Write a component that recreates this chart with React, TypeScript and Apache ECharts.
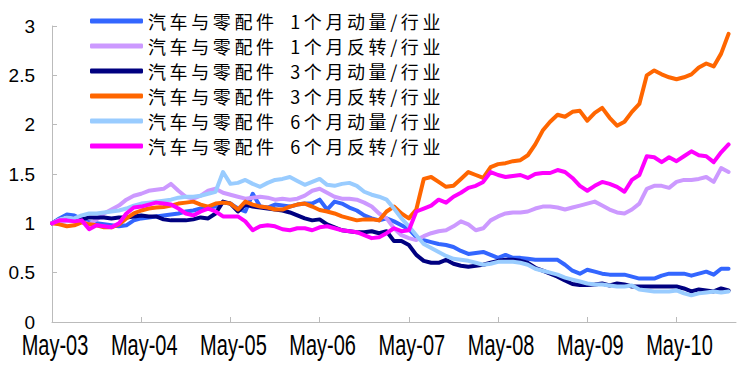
import React, { useEffect, useRef } from "react";
import * as echarts from "echarts";

const MONTH_NAMES = ["Jan", "Feb", "Mar", "Apr", "May", "Jun", "Jul", "Aug", "Sep", "Oct", "Nov", "Dec"];
const START_YEAR = 2003;
const START_MONTH = 4; // May
const CATEGORY_COUNT = 93;

const categories: string[] = Array.from({ length: CATEGORY_COUNT }, (_, k) => {
  const m = START_MONTH + k;
  const y = START_YEAR + Math.floor(m / 12);
  return `${MONTH_NAMES[m % 12]}-${String(y % 100).padStart(2, "0")}`;
});

const xTickLabels = ["May-03", "May-04", "May-05", "May-06", "May-07", "May-08", "May-09", "May-10"];

const seriesNames = [
  "汽车与零配件 1个月动量/行业",
  "汽车与零配件 1个月反转/行业",
  "汽车与零配件 3个月动量/行业",
  "汽车与零配件 3个月反转/行业",
  "汽车与零配件 6个月动量/行业",
  "汽车与零配件 6个月反转/行业",
];

const momentum1M = [
  1.00, 1.05, 1.09, 1.08, 1.04, 1.01, 1.00, 0.99, 0.98, 0.97, 0.98, 1.03, 1.05, 1.06, 1.07, 1.08, 1.09, 1.10, 1.12, 1.13, 1.15, 1.16, 1.17, 1.21,
  1.20, 1.15, 1.12, 1.30, 1.17, 1.16, 1.19, 1.18, 1.17, 1.19, 1.20,
  1.20, 1.24, 1.14, 1.22, 1.20, 1.16, 1.13, 1.08, 1.05, 1.03, 1.05, 1.02, 0.98,
  0.94, 0.86, 0.83, 0.81, 0.79, 0.78, 0.76, 0.72, 0.69, 0.70, 0.71, 0.68, 0.65, 0.68, 0.65, 0.65, 0.64, 0.63, 0.63, 0.63, 0.63, 0.58,
  0.52, 0.49, 0.53, 0.51, 0.49, 0.48, 0.48, 0.48, 0.46, 0.44, 0.44, 0.44, 0.47, 0.49, 0.49, 0.49, 0.47, 0.49, 0.51, 0.48, 0.54, 0.54,
];

const reversal1M = [
  1.00, 1.01, 1.02, 1.03, 1.02, 0.99, 1.04, 1.10, 1.14, 1.18, 1.24, 1.28, 1.30, 1.33, 1.34, 1.35, 1.40, 1.33, 1.27, 1.25, 1.28, 1.33, 1.35, 1.31,
  1.29, 1.27, 1.25, 1.26, 1.27, 1.26, 1.24, 1.25, 1.24, 1.25, 1.28, 1.33, 1.35, 1.31, 1.27, 1.25, 1.25, 1.24, 1.21, 1.17, 1.10, 1.05, 0.95, 0.88,
  0.85, 0.83, 0.87, 0.90, 0.92, 0.93, 0.97, 1.02, 0.99, 0.93, 0.95, 1.03, 1.07, 1.10, 1.11, 1.11, 1.12, 1.15, 1.17, 1.17,
  1.16, 1.14, 1.16, 1.18, 1.20, 1.22, 1.18, 1.14, 1.11, 1.10, 1.14, 1.20, 1.35, 1.38, 1.38, 1.36, 1.42, 1.44, 1.44, 1.45, 1.47, 1.42, 1.56, 1.52,
];

const momentum3M = [
  1.00, 1.04, 1.06, 1.05, 1.04, 1.06, 1.06, 1.06, 1.05, 1.06, 1.06, 1.07, 1.08, 1.07, 1.07, 1.04, 1.03, 1.03, 1.03, 1.04, 1.06, 1.05, 1.10, 1.22,
  1.20, 1.12, 1.19, 1.17, 1.16, 1.15, 1.14, 1.13, 1.11, 1.08,
  1.05, 1.03, 1.04, 0.99, 0.96, 0.93, 0.92, 0.91, 0.91, 0.92,
  0.90, 0.92, 0.82, 0.82, 0.78, 0.68, 0.62, 0.60, 0.60, 0.63,
  0.59, 0.57, 0.56, 0.57, 0.58, 0.60, 0.62, 0.63, 0.63, 0.62,
  0.60, 0.55, 0.52, 0.49, 0.46, 0.42, 0.385, 0.375, 0.375, 0.38,
  0.39, 0.37, 0.39, 0.38, 0.36, 0.36, 0.36, 0.36, 0.36, 0.36,
  0.36, 0.34, 0.31, 0.33, 0.32, 0.31, 0.34, 0.32,
];

const reversal3M = [
  1.00, 0.99, 0.97, 0.98, 1.01, 0.99, 0.98, 0.96, 0.96, 0.99, 1.05, 1.10, 1.13, 1.15, 1.16, 1.165, 1.18, 1.20, 1.21, 1.22, 1.19, 1.17, 1.20, 1.21,
  1.20, 1.14, 1.22, 1.19, 1.17, 1.16, 1.14, 1.14, 1.17, 1.19, 1.20, 1.17, 1.135, 1.12, 1.10, 1.07, 1.05, 1.03, 1.04, 1.04, 1.03,
  1.12, 1.17, 1.10, 1.05, 1.14, 1.45, 1.47, 1.42, 1.37, 1.38, 1.45, 1.52, 1.49, 1.46, 1.57, 1.60, 1.61, 1.63, 1.64, 1.69, 1.80, 1.94, 2.03, 2.10,
  2.08, 2.13, 2.14, 2.04, 2.12, 2.17, 2.07, 1.99, 2.03, 2.13, 2.21, 2.50, 2.55, 2.51, 2.48, 2.46, 2.48, 2.51, 2.58, 2.62, 2.59, 2.72, 2.92,
];

const momentum6M = [
  1.00, 1.04, 1.06, 1.05, 1.08, 1.10, 1.10, 1.11, 1.12, 1.13, 1.15, 1.18, 1.20, 1.21, 1.22, 1.23, 1.24, 1.26, 1.27, 1.27, 1.28, 1.30, 1.32, 1.52,
  1.40, 1.41, 1.44, 1.40, 1.37, 1.41, 1.44, 1.45, 1.47, 1.43, 1.39, 1.42, 1.45, 1.39, 1.38, 1.40, 1.41, 1.38, 1.32, 1.29, 1.27, 1.24, 1.15, 1.05, 0.97, 0.88, 0.79,
  0.75, 0.71, 0.67, 0.64, 0.63, 0.62, 0.60, 0.58, 0.59, 0.61, 0.61, 0.61, 0.60, 0.58, 0.54, 0.52, 0.50, 0.48, 0.45, 0.43, 0.41,
  0.39, 0.38, 0.38, 0.37, 0.36, 0.36, 0.37, 0.33, 0.32, 0.31, 0.31, 0.31, 0.32, 0.29, 0.27, 0.29, 0.30, 0.31, 0.30, 0.31,
];

const reversal6M = [
  1.00, 1.03, 1.03, 1.02, 1.03, 0.94, 0.98, 0.97, 0.96, 1.00, 1.10, 1.16, 1.17, 1.19, 1.21, 1.20, 1.19, 1.15, 1.10, 1.08, 1.12, 1.15, 1.12, 1.07,
  1.07, 1.07, 1.02, 0.93, 0.97, 0.98, 0.97, 0.94, 0.93, 0.95, 0.95, 0.93, 0.96, 0.97, 0.95, 0.93, 0.92, 0.91, 0.88, 0.85, 0.86, 0.90, 0.95, 0.92,
  0.93, 1.12, 1.15, 1.18, 1.24, 1.21, 1.27, 1.31, 1.36, 1.38, 1.42, 1.52, 1.49, 1.47, 1.48, 1.49, 1.46, 1.50, 1.51, 1.51, 1.54, 1.52,
  1.46, 1.38, 1.33, 1.38, 1.42, 1.40, 1.37, 1.32, 1.44, 1.49, 1.68, 1.67, 1.62, 1.67, 1.63, 1.68, 1.73, 1.69, 1.68, 1.62, 1.72, 1.80,
];

const seriesData = [momentum1M, reversal1M, momentum3M, reversal3M, momentum6M, reversal6M];
const seriesColors = ["#3366FF", "#CC99FF", "#000080", "#FF6600", "#99CCFF", "#FF00FF"];

const spacedLegend = (name: string) =>
  Array.from(name)
    .map((c) => (c === " " ? "\u2002" : c))
    .join("\u2009");

export default function App() {
  const ref = useRef<HTMLDivElement>(null);

  useEffect(() => {
    if (!ref.current) return;
    const chart = echarts.init(ref.current, undefined, { renderer: "svg" });
    chart.setOption({
      animation: false,
      backgroundColor: "#ffffff",
      grid: { left: 52, right: 8, top: 26, bottom: 47 },
      legend: {
        orient: "vertical",
        left: 90,
        top: 11,
        padding: 0,
        itemWidth: 53,
        itemHeight: 5,
        itemGap: 5,
        icon: "roundRect",
        data: seriesNames,
        formatter: spacedLegend,
        textStyle: {
          fontFamily: "Noto Sans CJK SC",
          fontSize: 18,
          lineHeight: 20,
          color: "#000",
        },
      },
      xAxis: {
        type: "category",
        data: categories,
        boundaryGap: false,
        axisLine: { lineStyle: { color: "#bbbbbb", width: 1 } },
        axisTick: { show: true, inside: true, length: 5, interval: 11, lineStyle: { color: "#bbbbbb" } },
        axisLabel: { show: false, interval: 11 },
        splitLine: { show: false },
      },
      yAxis: {
        type: "value",
        min: 0,
        max: 3,
        interval: 0.5,
        axisLine: { show: true, lineStyle: { color: "#bbbbbb", width: 1 } },
        axisTick: { show: true, inside: true, length: 5, lineStyle: { color: "#bbbbbb" } },
        axisLabel: {
          margin: 17,
          color: "#000",
          fontFamily: "Liberation Sans, Arial",
          fontSize: 19,
        },
        splitLine: { show: false },
      },
      series: seriesNames.map((name, k) => ({
        name,
        type: "line",
        data: seriesData[k],
        showSymbol: false,
        symbol: "none",
        color: seriesColors[k],
        lineStyle: { width: 4, color: seriesColors[k], cap: "round", join: "round" },
      })),
    });

    // X-axis tick labels (vertically stretched like the reference), placed via the axis scale
    const yBase = chart.convertToPixel({ yAxisIndex: 0 }, 0) as number;
    chart.setOption({
      graphic: xTickLabels.map((label) => ({
        type: "text",
        x: (chart.convertToPixel({ xAxisIndex: 0 }, categories.indexOf(label)) as number) + 3,
        y: yBase + 8,
        scaleY: 1.45,
        silent: true,
        style: {
          text: label,
          fontSize: 20,
          fontFamily: "Liberation Sans, Arial",
          fill: "#000",
          align: "center",
          verticalAlign: "top",
        },
      })),
    });
    return () => chart.dispose();
  }, []);

  return (
    <div
      ref={ref}
      style={{ position: "absolute", left: 0, top: 0, width: 744, height: 369, background: "#fff" }}
    />
  );
}
